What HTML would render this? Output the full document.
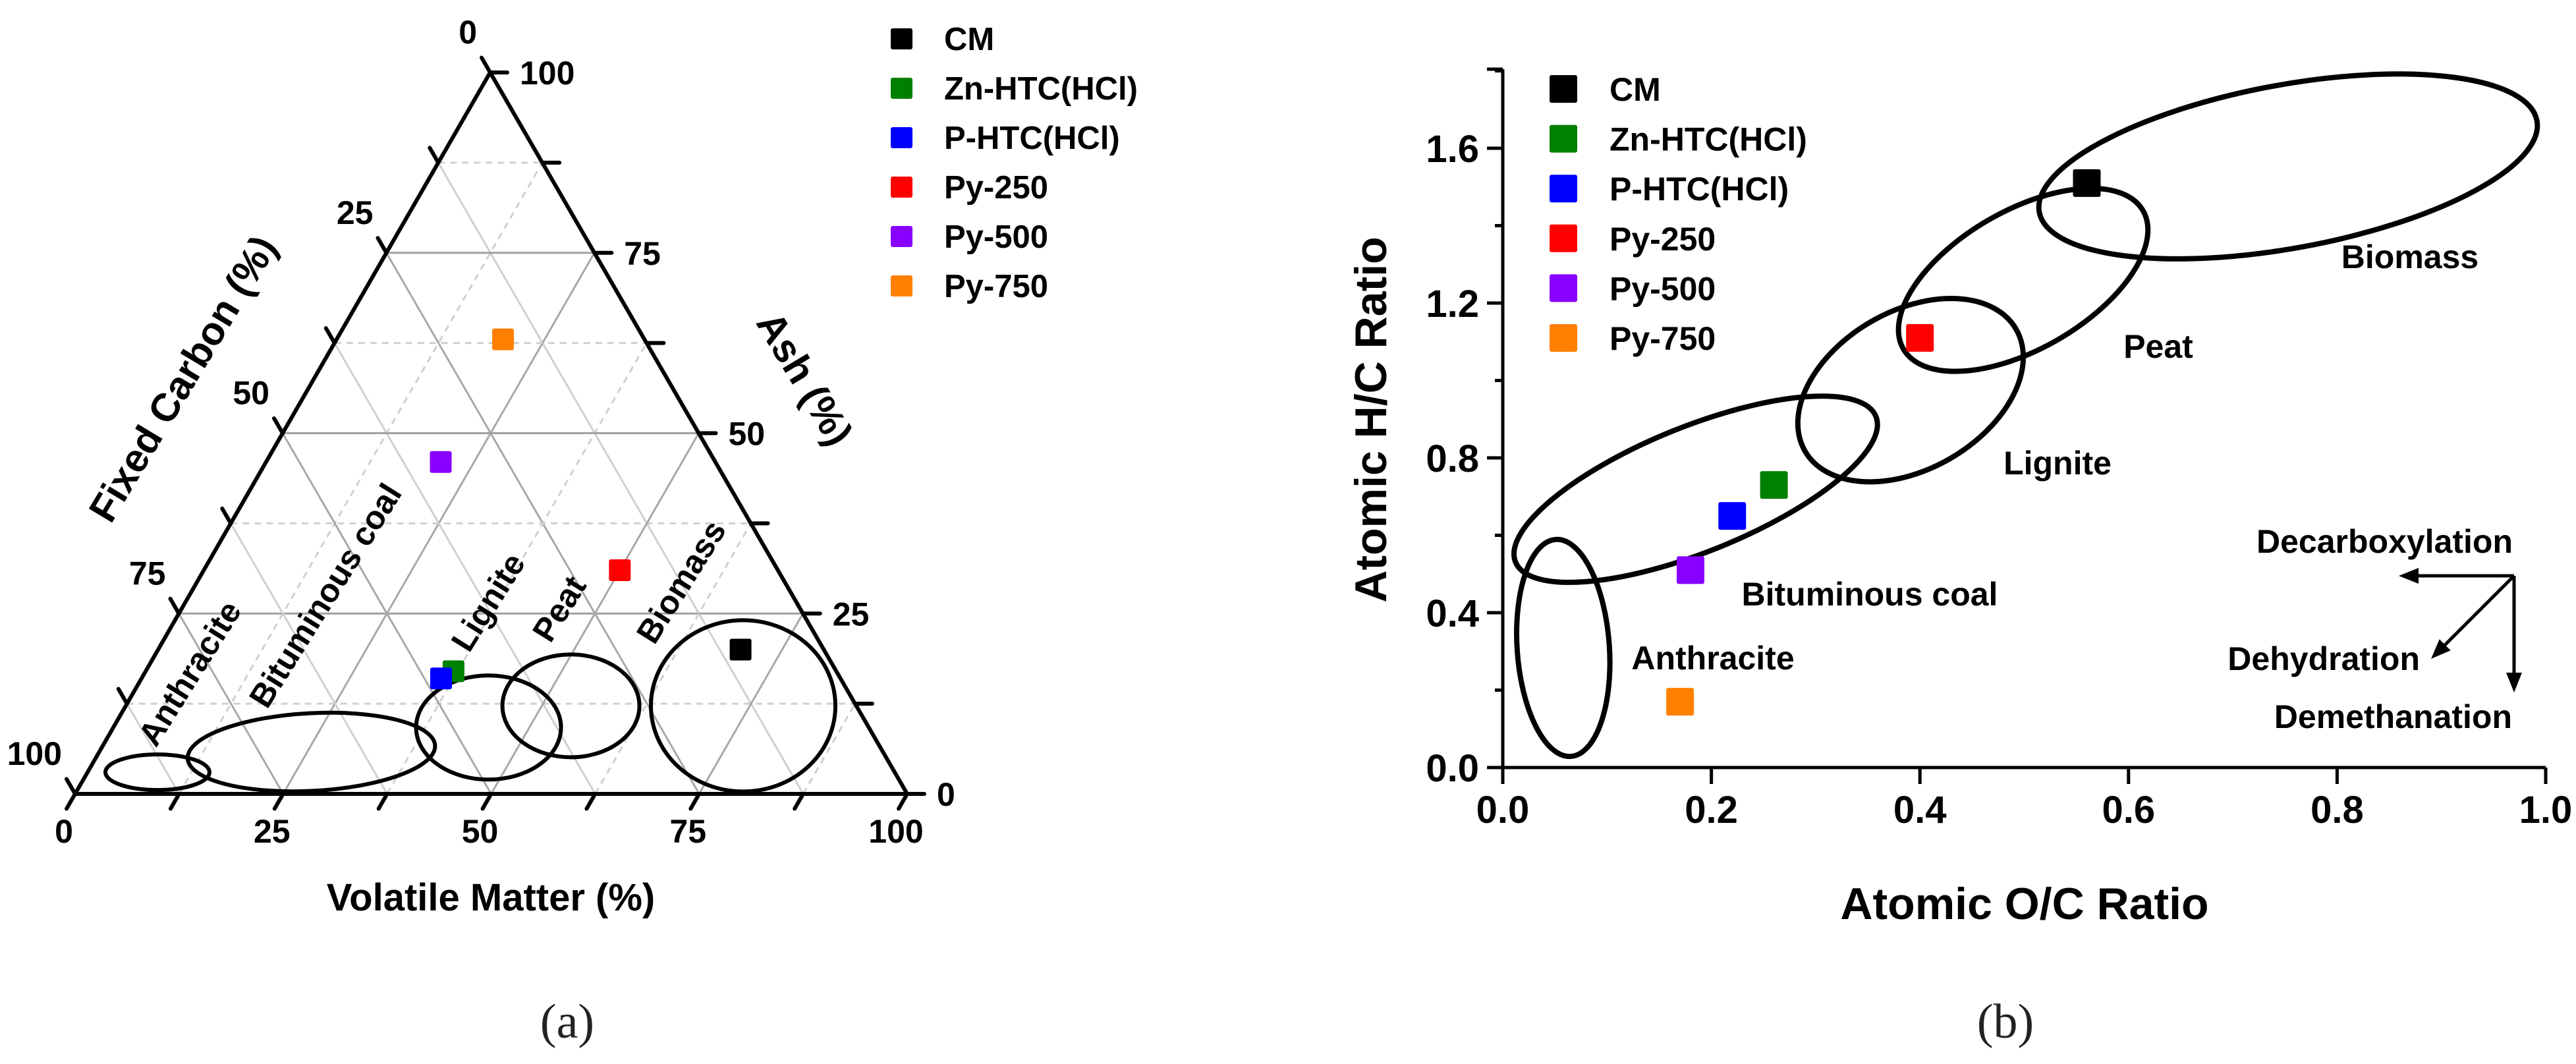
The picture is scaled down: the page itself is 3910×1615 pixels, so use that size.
<!DOCTYPE html>
<html><head><meta charset="utf-8"><style>
html,body{margin:0;padding:0;background:#fff;}
svg{display:block;}
text{font-family:"Liberation Sans",Arial,sans-serif;font-weight:bold;fill:#000;}
.serif{font-family:"Liberation Serif","Times New Roman",serif;font-weight:normal;fill:#222;}
</style></head><body>
<svg id="fig" xmlns="http://www.w3.org/2000/svg" width="3910" height="1615" viewBox="0 0 3910 1615">
<g id="panelA"></g>
<g id="panelB"></g>
<text class="serif" x="861" y="1575" font-size="74" text-anchor="middle">(a)</text>
<text class="serif" x="3044" y="1575" font-size="74" text-anchor="middle">(b)</text>
</svg>
<script>
// ---------- shared data ----------
const seriesNames = ["CM","Zn-HTC(HCl)","P-HTC(HCl)","Py-250","Py-500","Py-750"];
const seriesColors = ["#000000","#008000","#0000ff","#ff0000","#8800ff","#ff8000"];
// Panel (a) proximate analysis (%)
const volatileMatter = [70, 37, 36, 50, 21, 20];
const ashContent = [20, 17, 16, 31, 46, 63];
const ternaryTicks = [0, 25, 50, 75, 100];
// Region ellipses (a): centers in VM/Ash %
const regionNamesA = ["Anthracite","Bituminous coal","Lignite","Peat","Biomass"];
const regionVM = [8.4, 25.5, 45.1, 53.5, 74.2];
const regionAsh = [3.0, 5.8, 9.2, 12.2, 12.2];
// Panel (b) atomic ratios
const ocRatio = [0.56, 0.26, 0.22, 0.40, 0.18, 0.17];
const hcRatio = [1.51, 0.73, 0.65, 1.11, 0.51, 0.17];
const xTicksB = [0.0, 0.2, 0.4, 0.6, 0.8, 1.0];
const yTicksB = [0.0, 0.4, 0.8, 1.2, 1.6];
const regionNamesB = ["Anthracite","Bituminous coal","Lignite","Peat","Biomass"];
const regionOC = [0.058, 0.185, 0.391, 0.499, 0.753];
const regionHC = [0.309, 0.719, 0.975, 1.260, 1.553];

const NS = "http://www.w3.org/2000/svg";
function mk(parent, tag, attrs, txt){
  const e = document.createElementNS(NS, tag);
  for (const k in attrs) e.setAttribute(k, attrs[k]);
  if (txt !== undefined) e.textContent = txt;
  parent.appendChild(e);
  return e;
}

// ---------- Panel A: ternary ----------
const A = document.getElementById('panelA');
const TOP = [744,110], BL = [114,1205], BR = [1377,1205];
function tern(vm, ash){
  return [BL[0] + vm/100*(BR[0]-BL[0]) + ash/100*(TOP[0]-BL[0]),
          BL[1] + vm/100*(BR[1]-BL[1]) + ash/100*(TOP[1]-BL[1])];
}
function unit(a,b){const dx=b[0]-a[0],dy=b[1]-a[1],l=Math.hypot(dx,dy);return [dx/l,dy/l];}
// grid
for (let i=1;i<8;i++){
  const t = i*12.5, major = (i%2===0);
  let p1=tern(0,t), p2=tern(100-t,t);
  let g = mk(A,'line',{x1:p1[0],y1:p1[1],x2:p2[0],y2:p2[1],stroke:major?'#a0a0a0':'#d0d0d0','stroke-width':3,'stroke-dasharray':major?'':'10 8'});
  
  
  p1=tern(t,0); p2=tern(t,100-t);
  g = mk(A,'line',{x1:p1[0],y1:p1[1],x2:p2[0],y2:p2[1],stroke:major?'#a8a8a8':'#d0d0d0','stroke-width':3,'stroke-dasharray':major?'':'10 8'});
  
  
  p1=tern(100-t,0); p2=tern(0,100-t);
  g = mk(A,'line',{x1:p1[0],y1:p1[1],x2:p2[0],y2:p2[1],stroke:major?'#a8a8a8':'#d0d0d0','stroke-width':3});
  
  
}
// ticks
const dVM = unit(TOP,BL), dFC = unit(BR,TOP);
for (let i=0;i<=8;i++){
  const t=i*12.5, L=26;
  let p=tern(100-t,t); let e=mk(A,'line',{x1:p[0],y1:p[1],x2:p[0]+L,y2:p[1],stroke:'#000','stroke-width':6,'stroke-linecap':'round'});
   
  p=tern(t,0); e=mk(A,'line',{x1:p[0],y1:p[1],x2:p[0]+dVM[0]*L,y2:p[1]+dVM[1]*L,stroke:'#000','stroke-width':6,'stroke-linecap':'round'});
   
  p=tern(0,100-t); e=mk(A,'line',{x1:p[0],y1:p[1],x2:p[0]+dFC[0]*L,y2:p[1]+dFC[1]*L,stroke:'#000','stroke-width':6,'stroke-linecap':'round'});
   
}
// triangle
const tri = mk(A,'polygon',{points:[TOP,BL,BR].map(p=>p.join(',')).join(' '),fill:'none',stroke:'#000','stroke-width':6,'stroke-linejoin':'round'});


// tick labels
ternaryTicks.forEach(v=>{
  let p=tern(v,0);
  let t=mk(A,'text',{x:p[0]-17,y:p[1]+74,'font-size':50,'text-anchor':'middle'},String(v));
   
  p=tern(100-v,v);
  t=mk(A,'text',{x:p[0]+45,y:p[1]+18,'font-size':50},String(v));
   
  p=tern(0,100-v);
  t=mk(A,'text',{x:p[0]-20,y:p[1]-44,'font-size':50,'text-anchor':'end'},String(v));
   
});
// axis titles
let tt=mk(A,'text',{x:745,y:1382,'font-size':58,'text-anchor':'middle'},'Volatile Matter (%)');
 
tt=mk(A,'text',{x:0,y:0,'font-size':60,'text-anchor':'middle',transform:'translate(278,575) rotate(-59) translate(0,20)'},'Fixed Carbon (%)');
 
tt=mk(A,'text',{x:0,y:0,'font-size':60,'text-anchor':'middle',transform:'translate(1221,575) rotate(59) translate(0,20)'},'Ash (%)');
 
// region ellipses
const ellA = [[79,27,0],[188,59,-3],[110,79,0],[104,78,0],[140,130,0]];
regionNamesA.forEach((n,i)=>{
  const c=tern(regionVM[i],regionAsh[i]);
  const e=mk(A,'ellipse',{cx:c[0],cy:c[1],rx:ellA[i][0],ry:ellA[i][1],fill:'none',stroke:'#000','stroke-width':6,transform:`rotate(${ellA[i][2]} ${c[0]} ${c[1]})`});
  
  
});
const labA = [[288,1022],[494,904],[741,914],[849,924],[1034,883]];
regionNamesA.forEach((n,i)=>{
  const t=mk(A,'text',{x:0,y:0,'font-size':50,'text-anchor':'middle',transform:`translate(${labA[i][0]},${labA[i][1]}) rotate(-58) translate(0,17)`},n);
  
  
});
// markers
volatileMatter.forEach((v,i)=>{
  const p=tern(v,ashContent[i]);
  const r=mk(A,'rect',{x:p[0]-16.5,y:p[1]-16.5,width:33,height:33,rx:3,fill:seriesColors[i]});
  
  
});
// legend A
seriesNames.forEach((n,i)=>{
  const y=59+i*75;
  const r=mk(A,'rect',{x:1352,y:y-16,width:33,height:32,rx:3,fill:seriesColors[i]});
  
  
  const t=mk(A,'text',{x:1433,y:y+17,'font-size':49},n);
  
  
});

// ---------- Panel B ----------
const B = document.getElementById('panelB');
const X0=2281, X1=3864, Y0=1165, YPER=235/0.4;
const sx = v => X0 + v*(X1-X0);
const sy = v => Y0 - v*YPER;
let ax=mk(B,'line',{x1:X0,y1:105,x2:X0,y2:Y0,stroke:'#000','stroke-width':5});
 
ax=mk(B,'line',{x1:X0-24,y1:Y0,x2:X1,y2:Y0,stroke:'#000','stroke-width':5});
 
mk(B,'line',{x1:X0-24,y1:105,x2:X0,y2:105,stroke:'#000','stroke-width':5});
xTicksB.forEach(v=>{
  const x=sx(v);
  const l=mk(B,'line',{x1:x,y1:Y0,x2:x,y2:Y0+25,stroke:'#000','stroke-width':5});
   
  const t=mk(B,'text',{x:x,y:1249,'font-size':58,'text-anchor':'middle'},v.toFixed(1));
   
});
yTicksB.forEach(v=>{
  const y=sy(v);
  const l=mk(B,'line',{x1:X0-24,y1:y,x2:X0,y2:y,stroke:'#000','stroke-width':5});
   
  const m=mk(B,'line',{x1:X0-12,y1:sy(v+0.2),x2:X0,y2:sy(v+0.2),stroke:'#000','stroke-width':5});
   
  const t=mk(B,'text',{x:2245,y:y+21,'font-size':58,'text-anchor':'end'},v.toFixed(1));
   
});
tt=mk(B,'text',{x:3073,y:1395,'font-size':68,'text-anchor':'middle'},'Atomic O/C Ratio');
 
tt=mk(B,'text',{x:0,y:0,'font-size':68,'text-anchor':'middle',transform:'translate(2080,637) rotate(-90) translate(0,24)'},'Atomic H/C Ratio');
 
// ellipses
const ellB = [[70,165,-4],[295,95,-22],[185,120,-30],[210,105,-30],[384,124,-10.4]];
regionNamesB.forEach((n,i)=>{
  const cx=sx(regionOC[i]), cy=sy(regionHC[i]);
  const e=mk(B,'ellipse',{cx:cx,cy:cy,rx:ellB[i][0],ry:ellB[i][1],fill:'none',stroke:'#000','stroke-width':8,transform:`rotate(${ellB[i][2]} ${cx} ${cy})`});
  
  
});
const labB = [[2600,1016],[2838,919],[3123,720],[3276,543],[3658,407]];
regionNamesB.forEach((n,i)=>{
  const t=mk(B,'text',{x:labB[i][0],y:labB[i][1],'font-size':50,'text-anchor':'middle'},n);
  
  
});
// markers
ocRatio.forEach((v,i)=>{
  const r=mk(B,'rect',{x:sx(v)-21,y:sy(hcRatio[i])-21,width:42,height:42,rx:3,fill:seriesColors[i]});
  
  
});
// legend B
seriesNames.forEach((n,i)=>{
  const y=135+i*75.6;
  const r=mk(B,'rect',{x:2352,y:y-21,width:42,height:42,rx:3,fill:seriesColors[i]});
  
  
  const t=mk(B,'text',{x:2443,y:y+18,'font-size':50},n);
  
  
});
// reaction arrows
const O=[3816,874];
function arrow(tx,ty,name){
  const g=mk(B,'g',{});
  
  
  const u=unit(O,[tx,ty]); const L=30,W=12;
  mk(g,'line',{x1:O[0],y1:O[1],x2:tx-u[0]*L,y2:ty-u[1]*L,stroke:'#000','stroke-width':5});
  const bx=tx-u[0]*L, by=ty-u[1]*L;
  mk(g,'polygon',{points:`${tx},${ty} ${bx-u[1]*W},${by+u[0]*W} ${bx+u[1]*W},${by-u[0]*W}`,fill:'#000'});
}
arrow(3641,874,'decarboxylation-arrow');
arrow(3816,1051,'demethanation-arrow');
arrow(3690,1000,'dehydration-arrow');
tt=mk(B,'text',{x:3814,y:839,'font-size':50,'text-anchor':'end'},'Decarboxylation');
 
tt=mk(B,'text',{x:3673,y:1017,'font-size':50,'text-anchor':'end'},'Dehydration');
 
tt=mk(B,'text',{x:3813,y:1105,'font-size':50,'text-anchor':'end'},'Demethanation');
 
</script>
</body></html>
